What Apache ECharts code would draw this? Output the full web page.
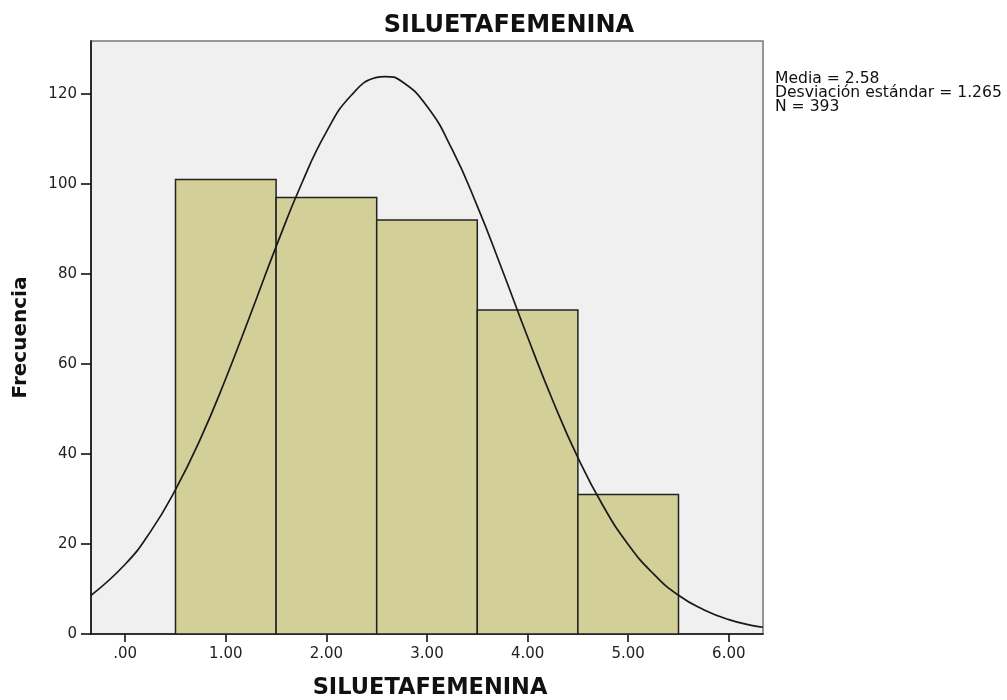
<!DOCTYPE html>
<html><head><meta charset="utf-8">
<script src="https://cdn.jsdelivr.net/npm/echarts@6/dist/echarts.min.js"></script>
<style>html,body{margin:0;padding:0;background:#fff}#c{width:1007px;height:700px}</style>
</head><body><div id="c"></div>
<script>
var titleText = 'SILUETAFEMENINA';
var xAxisName = 'SILUETAFEMENINA';
var yAxisName = 'Frecuencia';
var binCenters = [1, 2, 3, 4, 5];
var frequencies = [101, 97, 92, 72, 31];
var xTickValues = [0, 1, 2, 3, 4, 5, 6];
var xTickLabels = ['.00', '1.00', '2.00', '3.00', '4.00', '5.00', '6.00'];
var yTickValues = [0, 20, 40, 60, 80, 100, 120];
var curveX = [-0.34, 0, 0.25, 0.5, 0.75, 1, 1.25, 1.5, 1.75, 2, 2.25, 2.5, 2.58, 2.75, 3, 3.25, 3.5, 3.75, 4, 4.25, 4.5, 4.75, 5, 5.25, 5.5, 5.75, 6, 6.25, 6.34];
var curveY = [8.6, 15.5, 22.7, 32.1, 43.5, 56.8, 71.3, 86.1, 99.9, 111.6, 119.8, 123.7, 123.9, 122.8, 117.3, 107.7, 95.1, 80.8, 66.0, 51.9, 39.2, 28.5, 19.9, 13.4, 8.6, 5.4, 3.2, 1.8, 1.5];
var statsLines = ['Media = 2.58', 'Desviación estándar = 1.265', 'N = 393'];

var FONT = 'DejaVu Sans, Liberation Sans, Arial';
var barData = binCenters.map(function (c, i) { return [c, frequencies[i]]; });
var curveData = curveX.map(function (x, i) { return [x, curveY[i]]; });

var chart = echarts.init(document.getElementById('c'));
chart.setOption({
  animation: false,
  backgroundColor: '#ffffff',
  title: {
    text: titleText, left: 504, top: 9, textAlign: 'center',
    textStyle: { fontFamily: FONT, fontWeight: 'bold', fontSize: 24, color: '#111' }
  },
  grid: {
    left: 91, top: 41, width: 672, height: 593,
    outerBoundsMode: 'none', containLabel: false,
    show: true, backgroundColor: '#f0f0f0', borderColor: '#777', borderWidth: 1.5
  },
  xAxis: {
    type: 'value', min: -0.34, max: 6.34,
    name: xAxisName, nameLocation: 'middle', nameGap: 43,
    nameTextStyle: { fontFamily: FONT, fontWeight: 'bold', fontSize: 22.5, color: '#111', padding: [0, 0, 0, 6] },
    axisLine: { show: true, onZero: false, lineStyle: { color: '#111', width: 1.6 } },
    axisTick: { show: true, length: 8, customValues: xTickValues, lineStyle: { color: '#111', width: 1.6 } },
    axisLabel: {
      customValues: xTickValues, margin: 13,
      fontFamily: FONT, fontSize: 15, color: '#222',
      formatter: function (v) { var i = xTickValues.indexOf(Math.round(v)); return i >= 0 ? xTickLabels[i] : ''; }
    },
    splitLine: { show: false }
  },
  yAxis: {
    type: 'value', min: 0, max: 131.8,
    name: yAxisName, nameLocation: 'middle', nameGap: 60, nameRotate: 90,
    nameTextStyle: { fontFamily: FONT, fontWeight: 'bold', fontSize: 20, color: '#111' },
    axisLine: { show: true, onZero: false, lineStyle: { color: '#111', width: 1.6 } },
    axisTick: { show: true, length: 10, customValues: yTickValues, lineStyle: { color: '#111', width: 1.6 } },
    axisLabel: { customValues: yTickValues, margin: 14, fontFamily: FONT, fontSize: 15, color: '#222' },
    splitLine: { show: false }
  },
  series: [
    {
      type: 'custom',
      data: barData,
      renderItem: function (params, api) {
        var x = api.value(0), y = api.value(1);
        var p1 = api.coord([x - 0.5, y]);
        var p2 = api.coord([x + 0.5, 0]);
        return {
          type: 'rect',
          shape: { x: p1[0], y: p1[1], width: p2[0] - p1[0], height: p2[1] - p1[1] },
          style: { fill: '#d3cf98', stroke: '#222', lineWidth: 1.5 }
        };
      },
      z: 2
    },
    {
      type: 'line',
      data: curveData,
      smooth: true,
      showSymbol: false,
      symbol: 'none',
      lineStyle: { color: '#1a1a1a', width: 1.7 },
      z: 3
    }
  ],
  graphic: statsLines.map(function (t, i) {
    return {
      type: 'text', left: 775, top: 71 + i * 14,
      style: { text: t, fontFamily: FONT, fontSize: 15.6, fill: '#111' }
    };
  })
});
</script></body></html>
